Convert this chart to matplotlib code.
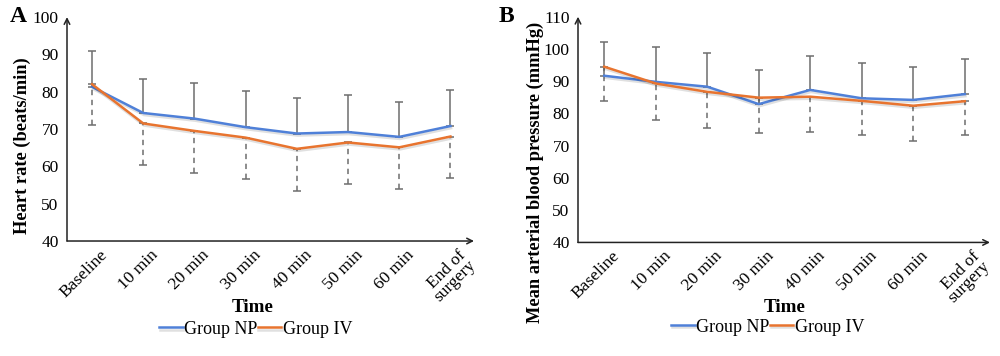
import matplotlib
matplotlib.use("Agg")
import matplotlib.pyplot as plt
import matplotlib.patheffects as pe
import matplotlib.transforms as mtransforms

categories = ["Baseline", "10 min", "20 min", "30 min", "40 min", "50 min", "60 min", "End of\nsurgery"]

hr_np = [81.3, 74.3, 72.8, 70.5, 68.8, 69.2, 67.9, 70.8]
hr_iv = [82.0, 71.5, 69.5, 67.7, 64.7, 66.4, 65.1, 68.0]
hr_np_sd = [9.6, 9.2, 9.5, 9.6, 9.5, 10.0, 9.3, 9.6]
hr_iv_sd = [11.0, 11.2, 11.3, 11.0, 11.3, 11.0, 11.1, 11.1]

map_np = [91.7, 89.8, 88.3, 82.9, 87.3, 84.7, 84.2, 86.0]
map_iv = [94.5, 89.3, 86.7, 84.9, 85.2, 83.9, 82.4, 83.8]
map_np_sd = [10.5, 10.9, 10.5, 10.6, 10.5, 10.8, 10.3, 10.8]
map_iv_sd = [10.7, 11.3, 11.1, 11.1, 11.0, 10.7, 10.9, 10.6]

hr_ticks = [40, 50, 60, 70, 80, 90, 100]
map_ticks = [40, 50, 60, 70, 80, 90, 100, 110]

BLUE = "#4f80d8"
ORANGE = "#e8742f"
GREY = "#6e6e6e"
SERIF = ["Liberation Serif", "DejaVu Serif"]

fig = plt.figure(figsize=(10, 3.56), dpi=100)


def panel(rect, np_vals, iv_vals, np_sd, iv_sd, ticks, xlim, ylabel, ylab_xy,
          xlab_xy, leg_xy, letter, letter_x):
    ax = fig.add_axes(rect)
    x = list(range(len(categories)))
    shadow = [pe.SimpleLineShadow(offset=(0.5, -1.5), alpha=0.12, shadow_color="k"), pe.Normal()]
    ax.errorbar(x, np_vals, yerr=[[0] * len(x), np_sd], fmt="none", ecolor=GREY,
                elinewidth=1.1, capsize=2.8, capthick=1.1, zorder=1)
    e2 = ax.errorbar(x, iv_vals, yerr=[iv_sd, [0] * len(x)], fmt="none", ecolor=GREY,
                     elinewidth=1.1, capsize=2.8, capthick=1.1, zorder=1)
    for c in e2[2]:
        c.set_linestyle((0, (3.5, 3)))
    ax.plot(x, np_vals, color=BLUE, lw=1.8, label="Group NP", zorder=3, path_effects=shadow)
    ax.plot(x, iv_vals, color=ORANGE, lw=1.8, label="Group IV", zorder=3, path_effects=shadow)
    ax.set_xlim(*xlim)
    ax.set_ylim(ticks[0], ticks[-1])
    ax.set_yticks(ticks)
    ax.set_yticklabels([str(t) for t in ticks], fontfamily=SERIF, fontsize=12.5)
    ax.set_xticks(x)
    ax.set_xticklabels([""] * len(x))
    base = ax.get_xaxis_transform()
    off = mtransforms.ScaledTranslation(7 / 100, -6 / 100, fig.dpi_scale_trans)
    for i, lab in enumerate(categories):
        ax.text(i, 0, lab, transform=base + off, rotation=45, ha="right", va="top",
                rotation_mode="anchor", fontfamily=SERIF, fontsize=12.5, linespacing=0.85)
    ax.tick_params(length=0, pad=6)
    for s in ax.spines.values():
        s.set_visible(False)
    ax.annotate("", xy=(1, 0), xytext=(0, 0), xycoords="axes fraction",
                arrowprops=dict(arrowstyle="->", lw=1.1, color="#222222", shrinkA=0, shrinkB=0))
    ax.annotate("", xy=(0, 1), xytext=(0, 0), xycoords="axes fraction",
                arrowprops=dict(arrowstyle="->", lw=1.1, color="#222222", shrinkA=0, shrinkB=0))
    ax.set_ylabel(ylabel, fontfamily=SERIF, fontsize=13.2, fontweight="bold")
    ax.yaxis.label.set_va("center")
    ax.yaxis.set_label_coords(*ylab_xy)
    ax.set_xlabel("Time", fontfamily=SERIF, fontsize=13.8, fontweight="bold")
    ax.xaxis.label.set_va("center")
    ax.xaxis.set_label_coords(*xlab_xy)
    ax.legend(loc="center", bbox_to_anchor=leg_xy, ncol=2, frameon=False,
              prop={"family": SERIF, "size": 13}, handlelength=1.3, handletextpad=0.1,
              columnspacing=0.0, borderaxespad=0, borderpad=0)
    fig.text(letter_x, 0.955, letter, fontfamily=SERIF, fontsize=17, fontweight="bold",
             va="center", ha="left")
    return ax


panel([0.067, 0.323, 0.407, 0.629], hr_np, hr_iv, hr_np_sd, hr_iv_sd, hr_ticks,
      (-0.49, 7.46), "Heart rate (beats/min)", (-0.11, 0.427), (0.455, -0.296),
      (0.464, -0.394), "A", 0.01)
panel([0.578, 0.319, 0.412, 0.634], map_np, map_iv, map_np_sd, map_iv_sd, map_ticks,
      (-0.51, 7.49), "Mean arterial blood pressure (mmHg)", (-0.104, 0.31), (0.502, -0.287),
      (0.461, -0.375), "B", 0.499)

fig.savefig("out.png", dpi=100)
